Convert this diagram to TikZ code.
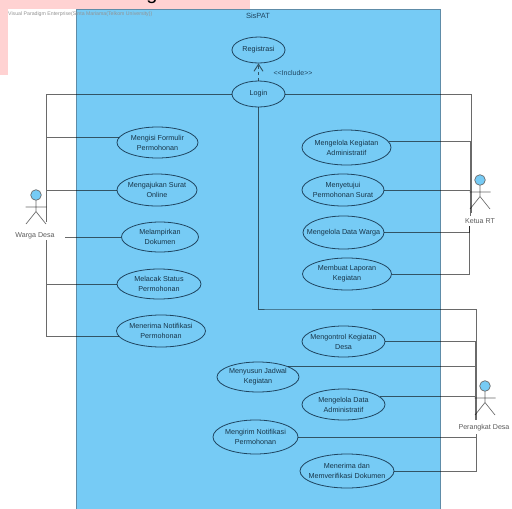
\documentclass[tikz,border=0pt]{standalone}
\usepackage{fontspec}
\setmainfont{Liberation Sans}
\usetikzlibrary{shapes.geometric,arrows.meta}

\definecolor{sysblue}{HTML}{76CBF5}
\definecolor{sysedge}{HTML}{5E8CA8}
\definecolor{inkblue}{HTML}{1F4560}
\definecolor{actorgrey}{HTML}{6A6A6A}
\definecolor{pinkbg}{HTML}{FFD2D2}

\tikzset{
  usecase/.style n args={3}{ellipse,draw=inkblue,fill=sysblue,line width=0.8pt,inner sep=0pt,
    minimum width=#1,minimum height=#2,
    label={[align=center,font=\fontsize{7.2}{10}\selectfont,text=inkblue!75!black]center:#3}},
  conn/.style={draw=actorgrey,line width=0.95pt,blend mode=multiply},
  actorlabel/.style={font=\fontsize{7.1}{8}\selectfont,text=actorgrey!85!black,inner sep=1pt},
  actor/.pic={
    \draw[draw=actorgrey,fill=sysblue,line width=0.7pt] (0,-12) circle (5.3);
    \draw[draw=actorgrey,line width=0.7pt] (0,-6.7) -- (0,4.5) (-10.5,0) -- (10.5,0) (-10,17) -- (0,4.5) -- (10,17);
  }
}

\begin{document}
\begin{tikzpicture}[x=1pt,y=-1pt]
\useasboundingbox (0,0) rectangle (512,509);

% draw the page behind the diagram
\fill[pinkbg] (0,0) rectangle (250,75);
\fill[white] (8,9) rectangle (250,75);
\begin{scope}
\clip (0,0) rectangle (512,4);
\node (pageglyph) at (152,-4) {\fontsize{20}{24}\selectfont\rmfamily g};
\end{scope}

% draw the system box
\node[draw=sysedge,fill=sysblue,line width=1pt,minimum width=364pt,minimum height=506pt,inner sep=0pt,anchor=north west] (sispat) at (76,9) {};
\node[font=\fontsize{7.5}{8}\selectfont,text=inkblue] (sispattitle) at (258,16) {SisPAT};
\node[font=\fontsize{5.2}{6}\selectfont,text=gray!85,anchor=west,inner sep=0pt] (watermark) at (8,14) {Visual Paradigm Enterprise(Sinta Mariama(Telkom University))};

% draw the actors
\pic (warga) at (36,207) {actor};
\pic (ketua) at (480,192) {actor};
\pic (perangkat) at (485,398) {actor};
\node[actorlabel] (wargalabel) at (35,236) {Warga Desa};
\node[actorlabel] (ketualabel) at (480,221) {Ketua RT};
\node[actorlabel] (perangkatlabel) at (484,428) {Perangkat Desa};

% draw free ends of the connectors
\coordinate (wargaup) at (46.5,222);
\coordinate (wargadown) at (46.5,240);
\coordinate (wargaleft) at (65,237);
\coordinate (ketuaup) at (471,213);
\coordinate (ketuamid) at (470,216);
\coordinate (ketuadown) at (469,226);
\coordinate (perangkatup) at (476,420);
\coordinate (perangkatmid) at (475,420);
\coordinate (perangkatdown) at (476,434);

% draw the use cases
\node[usecase={53pt}{26pt}{Registrasi}] (registrasi) at (258.5,50) {};
\node[usecase={53pt}{26pt}{Login}] (login) at (258.5,94) {};
\node[usecase={81pt}{31pt}{Mengisi Formulir\\Permohonan}] (mengisi) at (157.5,142.5) {};
\node[usecase={80pt}{32pt}{Mengajukan Surat\\Online}] (mengajukan) at (157,190) {};
\node[usecase={77pt}{30pt}{Melampirkan\\Dokumen}] (melampirkan) at (160,237) {};
\node[usecase={84pt}{30pt}{Melacak Status\\Permohonan}] (melacak) at (159,284) {};
\node[usecase={89pt}{32pt}{Menerima Notifikasi\\Permohonan}] (menerima) at (161,331) {};
\node[usecase={89pt}{35pt}{Mengelola Kegiatan\\Administratif}] (kegiatan) at (346.5,147.5) {};
\node[usecase={82pt}{32pt}{Menyetujui\\Permohonan Surat}] (menyetujui) at (343,190) {};
\node[usecase={81pt}{33pt}{Mengelola Data Warga}] (datawarga) at (343.5,232.5) {};
\node[usecase={89pt}{32pt}{Membuat Laporan\\Kegiatan}] (laporan) at (347,274) {};
\node[usecase={83pt}{31pt}{Mengontrol Kegiatan\\Desa}] (mengontrol) at (343.5,341.5) {};
\node[usecase={82pt}{30pt}{Menyusun Jadwal\\Kegiatan}] (jadwal) at (258,377) {};
\node[usecase={83pt}{31pt}{Mengelola Data\\Administratif}] (dataadmin) at (343.5,404.5) {};
\node[usecase={85pt}{34pt}{Mengirim Notifikasi\\Permohonan}] (mengirim) at (255.5,437) {};
\node[usecase={94pt}{34pt}{Menerima dan\\Memverifikasi Dokumen}] (verifikasi) at (347,471) {};

% draw the include relation
\draw[conn,dashed,-{Straight Barb[length=7pt,width=9pt]}] (login) -- (registrasi);
\node[font=\fontsize{7}{8}\selectfont,text=inkblue] (includelabel) at (293,73) {<{}<Include>{}>};

% draw lines from warga desa
\draw[conn] (login.west) -| (wargaup);
\draw[conn] (wargadown) -- (wargadown |- menerima.188) -- (menerima.188);
\draw[conn] (mengisi.173) -- (mengisi.173 -| wargaup);
\draw[conn] (mengajukan.west) -- (mengajukan.west -| wargaup);
\draw[conn] (melampirkan.west) -- (wargaleft);
\draw[conn] (melacak.west) -- (melacak.west -| wargaup);

% draw lines from ketua rt
\draw[conn] (login.east) -| (ketuaup);
\draw[conn] (kegiatan.8) -| (ketuamid);
\draw[conn] (menyetujui.east) -- (menyetujui.east -| ketuamid);
\draw[conn] (datawarga.east) -- (datawarga.east -| ketuadown) -- (ketuadown);
\draw[conn] (laporan.east) -| (ketuadown);

% draw lines from perangkat desa
\draw[conn] (login.south) |- (270,309) -| (perangkatup);
\draw[conn] (mengontrol.east) -| (perangkatmid);
\draw[conn] (jadwal.20) -- (jadwal.20 -| perangkatmid);
\draw[conn] (dataadmin.12) -- (dataadmin.12 -| perangkatmid);
\draw[conn] (mengirim.east) -- (mengirim.east -| perangkatdown);
\draw[conn] (verifikasi.east) -| (perangkatdown);
\end{tikzpicture}
\end{document}
